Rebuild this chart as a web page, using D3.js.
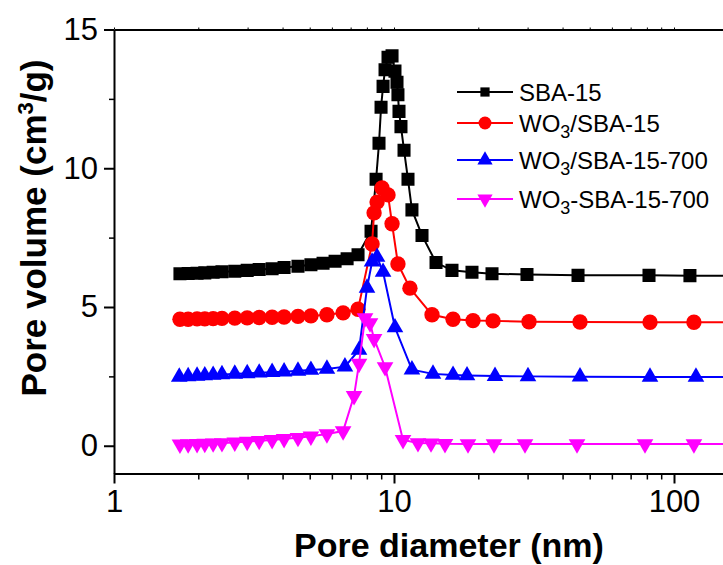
<!DOCTYPE html>
<html>
<head>
<meta charset="utf-8">
<script src="https://cdn.jsdelivr.net/npm/d3@7"></script>
<style>
  html, body { margin: 0; padding: 0; background: #fff; }
  svg { display: block; }
  text { font-family: Arial, "Liberation Sans", Helvetica, sans-serif; }
</style>
</head>
<body>
<svg id="chart" width="723" height="565"></svg>
<script>
// Pore size distributions (BJH), pore diameter in nm, pore volume in cm3/g
const sbaDiameter = [1.72, 1.84, 1.98, 2.11, 2.26, 2.43, 2.70, 2.99, 3.30, 3.67, 4.05, 4.54, 5.05, 5.58, 6.16, 6.80, 7.44,
  8.28, 8.63, 8.84, 8.99, 9.14, 9.29, 9.52, 9.84, 10.08, 10.25, 10.33, 10.42, 10.59, 10.86, 11.22, 11.59, 12.59, 14.13,
  16.11, 18.99, 22.39, 29.85, 45.42, 81.42, 114.0, 185.0];
const sbaVolume = [6.20, 6.21, 6.22, 6.23, 6.25, 6.27, 6.29, 6.32, 6.35, 6.38, 6.42, 6.47, 6.52, 6.58, 6.65, 6.74, 6.88,
  7.73, 9.60, 10.90, 12.20, 12.95, 13.55, 14.00, 14.05, 13.50, 13.10, 12.65, 12.05, 11.50, 10.65, 9.60, 8.50, 7.58, 6.60,
  6.32, 6.25, 6.20, 6.17, 6.14, 6.14, 6.13, 6.12];

const wsbaDiameter = [1.72, 1.84, 1.98, 2.11, 2.26, 2.43, 2.70, 2.99, 3.30, 3.67, 4.05, 4.54, 5.05, 5.76, 6.58, 7.44,
  8.35, 8.49, 8.70, 9.06, 9.52, 9.84, 10.33, 11.40, 13.67, 16.25, 19.15, 22.58, 30.35, 46.17, 82.10, 117.8, 185.0];
const wsbaVolume = [4.56, 4.56, 4.57, 4.57, 4.58, 4.59, 4.60, 4.61, 4.62, 4.63, 4.64, 4.66, 4.68, 4.72, 4.79, 4.92,
  7.27, 8.39, 8.78, 9.29, 9.04, 8.00, 6.55, 5.68, 4.72, 4.56, 4.51, 4.50, 4.47, 4.46, 4.45, 4.45, 4.45];

const wsba700Diameter = [1.71, 1.84, 1.98, 2.11, 2.26, 2.43, 2.70, 2.99, 3.30, 3.67, 4.05, 4.54, 5.05, 5.76, 6.68,
  7.50, 8.01, 8.35, 8.70, 9.14, 10.08, 11.59, 13.78, 16.25, 18.23, 22.95, 30.10, 46.17, 82.10, 119.8, 185.0];
const wsba700Volume = [2.48, 2.50, 2.52, 2.53, 2.55, 2.57, 2.59, 2.61, 2.63, 2.65, 2.67, 2.70, 2.73, 2.77, 2.85,
  3.45, 5.69, 6.63, 6.80, 6.26, 4.26, 2.74, 2.59, 2.55, 2.53, 2.51, 2.50, 2.49, 2.48, 2.48, 2.48];

const wTreatedDiameter = [1.72, 1.84, 1.98, 2.11, 2.26, 2.43, 2.70, 2.99, 3.30, 3.67, 4.05, 4.54, 5.05, 5.76, 6.58,
  7.20, 7.50, 7.88, 8.21, 8.49, 9.29, 10.77, 12.18, 13.56, 15.21, 18.38, 22.76, 29.37, 45.05, 78.78, 117.8, 185.0];
const wTreatedVolume = [0.05, 0.06, 0.07, 0.08, 0.09, 0.10, 0.12, 0.15, 0.18, 0.21, 0.25, 0.29, 0.34, 0.42, 0.53,
  1.80, 2.96, 4.60, 4.42, 3.85, 2.84, 0.21, 0.10, 0.09, 0.07, 0.06, 0.06, 0.06, 0.06, 0.06, 0.06, 0.06];

const seriesNames = ["SBA-15", "WO3/SBA-15", "WO3/SBA-15-700", "WO3-SBA-15-700"];
const seriesColors = ["#000000", "#ff0000", "#0000ff", "#ff00ff"];
const seriesShapes = ["square", "circle", "triangle", "triangleDown"];

const xTickValues = [1, 10, 100];
const yTickValues = [0, 5, 10, 15];
const yMinorTicks = [2.5, 7.5, 12.5];

const series = [
  { d: sbaDiameter, v: sbaVolume },
  { d: wsbaDiameter, v: wsbaVolume },
  { d: wsba700Diameter, v: wsba700Volume },
  { d: wTreatedDiameter, v: wTreatedVolume }
].map((s, i) => ({
  name: seriesNames[i], color: seriesColors[i], shape: seriesShapes[i],
  points: s.d.map((d, j) => ({ d, v: s.v[j] }))
}));

const svg = d3.select("#chart");
const W = 723, H = 565;
const plotLeft = 114, plotTop = 29.5, plotBottom = 473.5;
const decade = 280;

const x = d3.scaleLog().domain([1, 200]).range([plotLeft, plotLeft + decade * Math.log10(200)]);
const y = d3.scaleLinear().domain([-1, 15]).range([plotBottom, plotTop]);

const plotRight = x(200);

// clip for data
svg.append("defs").append("clipPath").attr("id", "plotclip")
  .append("rect").attr("x", plotLeft).attr("y", plotTop).attr("width", plotRight - plotLeft).attr("height", plotBottom - plotTop);

function symbolPath(shape, size) {
  if (shape === "square") return d3.symbol(d3.symbolSquare, size)();
  if (shape === "circle") return d3.symbol(d3.symbolCircle, size)();
  return d3.symbol(d3.symbolTriangle, size)();
}

const dataG = svg.append("g").attr("clip-path", "url(#plotclip)");
const line = d3.line().x(p => x(p.d)).y(p => y(p.v));

const markerSize = { square: 170, circle: 185, triangle: 120, triangleDown: 120 };

series.forEach(s => {
  const g = dataG.append("g");
  g.append("path").datum(s.points).attr("d", line)
    .attr("fill", "none").attr("stroke", s.color).attr("stroke-width", 2);
  g.selectAll("path.m").data(s.points).join("path").attr("class", "m")
    .attr("d", symbolPath(s.shape, markerSize[s.shape]))
    .attr("transform", p => `translate(${x(p.d)},${y(p.v)})` + (s.shape === "triangleDown" ? " rotate(180)" : ""))
    .attr("fill", s.color);
});

// Axes
const xMinor = [];
for (let dec = 1; dec <= 100; dec *= 10) for (let k = 2; k <= 9; k++) xMinor.push(dec * k);

const xAxis = d3.axisBottom(x).tickValues(xTickValues).tickFormat(d3.format("d")).tickSize(10).tickSizeOuter(0).tickPadding(6);
const gx = svg.append("g").attr("transform", `translate(0,${plotBottom})`).call(xAxis);
gx.select(".domain").attr("stroke-width", 2);
gx.selectAll(".tick line").attr("stroke-width", 2);
gx.selectAll(".tick text").attr("font-size", 31).attr("fill", "#000");
svg.append("g").attr("transform", `translate(0,${plotBottom})`)
  .call(d3.axisBottom(x).tickValues(xMinor.filter(v => x(v) < W + 5)).tickFormat("").tickSize(6).tickSizeOuter(0))
  .call(g => g.select(".domain").remove())
  .selectAll(".tick line").attr("stroke-width", 1.5);

// top frame with small ticks
const gt = svg.append("g").attr("transform", `translate(0,${plotTop})`)
  .call(d3.axisTop(x).tickValues(xMinor.concat(xTickValues)).tickFormat("").tickSize(2).tickSizeOuter(0));
gt.select(".domain").attr("stroke-width", 2);

const yAxis = d3.axisLeft(y).tickValues(yTickValues).tickSize(10).tickSizeOuter(0).tickPadding(6);
const gy = svg.append("g").attr("transform", `translate(${plotLeft},0)`).call(yAxis);
gy.select(".domain").attr("stroke-width", 2);
gy.selectAll(".tick line").attr("stroke-width", 2);
gy.selectAll(".tick text").attr("font-size", 31).attr("fill", "#000");
svg.append("g").attr("transform", `translate(${plotLeft},0)`)
  .call(d3.axisLeft(y).tickValues(yMinorTicks).tickFormat("").tickSize(5).tickSizeOuter(0))
  .call(g => g.select(".domain").remove())
  .selectAll(".tick line").attr("stroke-width", 1.5);

// Axis titles
svg.append("text").attr("x", 449).attr("y", 557).attr("text-anchor", "middle")
  .attr("font-size", 34).attr("font-weight", "bold").text("Pore diameter (nm)");

const yt = svg.append("text").attr("transform", "translate(46,228) rotate(-90)")
  .attr("text-anchor", "middle").attr("font-size", 35).attr("font-weight", "bold");
yt.append("tspan").text("Pore volume (cm");
yt.append("tspan").attr("font-size", 22).attr("dy", -13).text("3");
yt.append("tspan").attr("dy", 13).text("/g)");

// Legend
const legendRows = [92, 123, 160, 199];
const lg = svg.append("g");
series.forEach((s, i) => {
  const ly = legendRows[i];
  lg.append("line").attr("x1", 457).attr("x2", 513).attr("y1", ly).attr("y2", ly)
    .attr("stroke", s.color).attr("stroke-width", 2);
  lg.append("path").attr("d", symbolPath(s.shape, s.shape === "square" ? 85 : s.shape === "circle" ? 130 : 100))
    .attr("transform", `translate(485,${ly})` + (s.shape === "triangleDown" ? " rotate(180)" : ""))
    .attr("fill", s.color);
  const t = lg.append("text").attr("x", 519).attr("y", ly + 8.5).attr("font-size", 24).attr("fill", "#000");
  const m = s.name.match(/^WO3(.*)$/);
  if (m) {
    t.append("tspan").text("WO");
    t.append("tspan").attr("font-size", 18).attr("dy", 6).text("3");
    t.append("tspan").attr("dy", -6).text(m[1]);
  } else {
    t.text(s.name);
  }
});
</script>
</body>
</html>
